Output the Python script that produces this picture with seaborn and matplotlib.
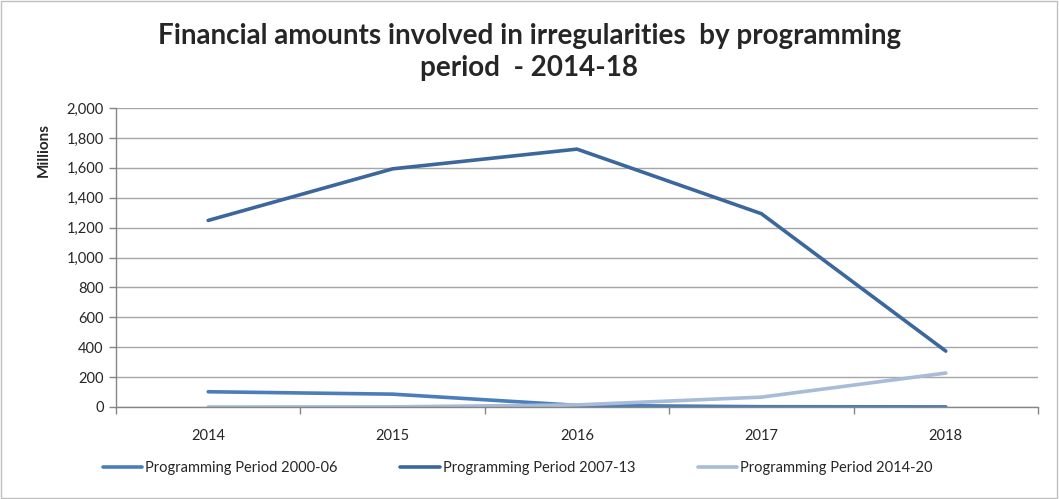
import numpy as np
import pandas as pd
import matplotlib
matplotlib.use("Agg")
import matplotlib.pyplot as plt
from matplotlib.ticker import FuncFormatter, FixedLocator
import seaborn as sns

# --- data (EUR millions) ---
years = ["2014", "2015", "2016", "2017", "2018"]
period_2000_06 = [102, 86, 11, 2, 1]
period_2007_13 = [1248, 1593, 1725, 1293, 374]
period_2014_20 = [0, 1, 14, 66, 227]
series_names = ["Programming Period 2000-06",
                "Programming Period 2007-13",
                "Programming Period 2014-20"]
colors = ["#4A7EBB", "#3B679C", "#A8BBD8"]

df = pd.DataFrame({
    "year": years * 3,
    "amount": period_2000_06 + period_2007_13 + period_2014_20,
    "period": np.repeat(series_names, len(years)),
})

sns.set_theme(style="white")
plt.rcParams["font.family"] = ["Lato", "DejaVu Sans"]

fig = plt.figure(figsize=(10.59, 4.99), dpi=100)
ax = fig.add_axes([116 / 1059, 1 - 407 / 499, (1038 - 116) / 1059, (407 - 108) / 499])

sns.lineplot(data=df, x="year", y="amount", hue="period", palette=colors,
             linewidth=2.6, ax=ax, sort=False, legend=True)

ax.set_xlim(-0.5, 4.5)
ax.set_ylim(0, 2000)
ax.set_yticks(range(0, 2001, 200))
ax.yaxis.set_major_formatter(FuncFormatter(lambda v, p: f"{int(v):,}"))
ax.yaxis.grid(True, color="#A6A6A6", linewidth=1)
ax.set_axisbelow(True)

# category boundaries get the tick marks, labels sit in the middle
ax.xaxis.set_minor_locator(FixedLocator(np.arange(-0.5, 5, 1)))
ax.tick_params(axis="x", which="major", length=0, pad=16, labelsize=10.5)
ax.tick_params(axis="x", which="minor", length=5, color="#868686", width=1, direction="out")
ax.tick_params(axis="y", which="major", length=5, color="#868686", width=1,
               direction="out", labelsize=10.5, pad=4)
ax.xaxis.set_ticks_position("bottom")
ax.yaxis.set_ticks_position("left")

for s in ["top", "right"]:
    ax.spines[s].set_visible(False)
for s in ["left", "bottom"]:
    ax.spines[s].set_color("#868686")
    ax.spines[s].set_linewidth(1)

ax.set_xlabel("")
ax.set_ylabel("Millions", fontsize=11, fontweight="bold", labelpad=4)
ax.yaxis.set_label_coords(-0.071, 0.86)

handles, labels = ax.get_legend_handles_labels()
ax.get_legend().remove()
fig.legend(handles, labels, loc="center", bbox_to_anchor=(0.489, 1 - 468 / 499),
           ncol=3, frameon=False, fontsize=10.5, handlelength=2.7,
           handletextpad=0.2, columnspacing=4.3)

fig.text(0.5, 1 - 52 / 499,
         "Financial amounts involved in irregularities  by programming\nperiod  - 2014-18",
         ha="center", va="center", fontsize=20, fontweight="bold", linespacing=1.3)

# light grey frame around the whole chart
fig.patches.append(plt.Rectangle((0.001, 0.002), 0.997, 0.996, transform=fig.transFigure,
                                 fill=False, edgecolor="#BFBFBF", linewidth=1))

fig.savefig("out.png", dpi=100)
